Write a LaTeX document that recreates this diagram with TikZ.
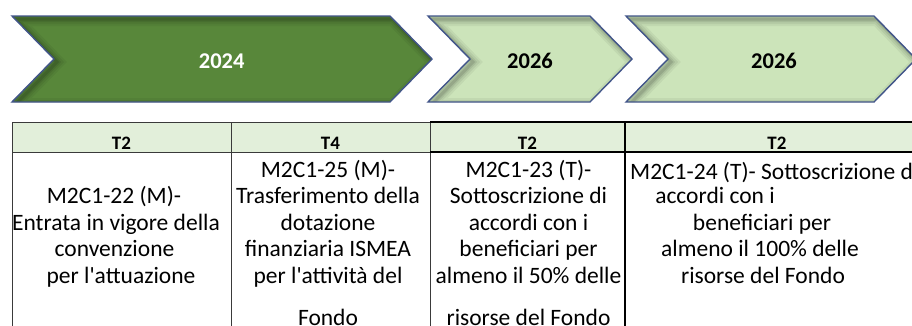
\documentclass[tikz,border=0pt]{standalone}
\usepackage{fontspec}
\setmainfont{Carlito}
\definecolor{dkgreen}{HTML}{58873A}
\definecolor{ltgreen}{HTML}{CCE4BA}
\definecolor{hdrgreen}{HTML}{E2EFDA}
\definecolor{chevline}{HTML}{42558A}
\definecolor{gridgray}{HTML}{3A3A3A}
\newcommand\chevronshape[3]{%
  \fill[#3] (#1,16) -- (#2,16) -- (#2+42,59) -- (#2,102) -- (#1,102) -- (#1+42,59) -- cycle;
  \begin{scope}
    \clip (#1,16) -- (#2,16) -- (#2+42,59) -- (#2,102) -- (#1,102) -- (#1+42,59) -- cycle;
    \foreach \w/\o in {14/0.05,10/0.06,6/0.08,3/0.1}
      \draw[black,opacity=\o,line width=\w pt,line join=miter,shift={(3,3)}]
        (#1,16) -- (#2,16) -- (#2+42,59) -- (#2,102) -- (#1,102) -- (#1+42,59) -- cycle;
  \end{scope}
  \draw[chevline,line width=1.4pt,line join=miter]
    (#1,16) -- (#2,16) -- (#2+42,59) -- (#2,102) -- (#1,102) -- (#1+42,59) -- cycle;
}
\tikzset{
  body/.style={font=\fontsize{23.5}{28}\selectfont, inner sep=0pt, anchor=base},
  hdr/.style={font=\fontsize{19}{21}\selectfont\bfseries, inner sep=0pt, anchor=base},
  year/.style={font=\fontsize{22.5}{24}\selectfont\bfseries, inner sep=0pt, anchor=base},
  thingrid/.style={gridgray, line width=0.9pt},
  thickgrid/.style={black, line width=1.6pt}
}
\begin{document}
\begin{tikzpicture}[x=1pt,y=-1pt]
\useasboundingbox (0,0) rectangle (912,325);
\clip (0,0) rectangle (912,325);
\fill[white] (0,0) rectangle (912,325);
% chevrons
\chevronshape{12}{390}{dkgreen}
\chevronshape{428}{590}{ltgreen}
\chevronshape{626}{874}{ltgreen}
\node[year, white] (y1) at (221.7,68.3) {2024};
\node[year] (y2) at (530,68.3) {2026};
\node[year] (y3) at (774,68.3) {2026};
% table
\fill[hdrgreen] (12,122) rectangle (912,152);
\draw[thingrid] (12,122) -- (430,122) (12,152) -- (430,152)
  (12,122) -- (12,330) (231,122) -- (231,330) (430,122) -- (430,330);
\draw[thickgrid] (430,122) -- (912,122) (430,152) -- (912,152);
\draw[black, line width=2.4pt] (625,122) -- (625,330);
\node[hdr] (h1) at (121.5,149.5) {T2};
\node[hdr] (h2) at (330.5,149.5) {T4};
\node[hdr] (h3) at (527.5,149.5) {T2};
\node[hdr] (h4) at (777,149.5) {T2};
% column 1
\node[body] (a1) at (114,203.5) {M2C1-22 (M)-};
\node[body] (a2) at (116,230) {Entrata in vigore della};
\node[body] (a3) at (114.5,256.5) {convenzione};
\node[body] (a4) at (121,283) {per l\textquotesingle attuazione};
% column 2
\node[body] (b1) at (328,177) {M2C1-25 (M)-};
\node[body] (b2) at (328,203.5) {Trasferimento della};
\node[body] (b3) at (328,230) {dotazione};
\node[body] (b4) at (328,256.5) {finanziaria ISMEA};
\node[body] (b5) at (328,283) {per l\textquotesingle attività del};
\node[body] (b6) at (328,325) {Fondo};
% column 3
\node[body] (c1) at (528.5,177) {M2C1-23 (T)-};
\node[body] (c2) at (528.5,203.5) {Sottoscrizione di};
\node[body] (c3) at (528.5,230) {accordi con i};
\node[body] (c4) at (528.5,256.5) {beneficiari per};
\node[body] (c5) at (528.5,283) {almeno il 50\% delle};
\node[body] (c6) at (528.5,325) {risorse del Fondo};
% column 4
\node[body, anchor=base west] (d1) at (630,179) {M2C1-24 (T)- Sottoscrizione di};
\node[body] (d2) at (715,203.5) {accordi con i};
\node[body] (d3) at (762,230) {beneficiari per};
\node[body] (d4) at (760,256.5) {almeno il 100\% delle};
\node[body] (d5) at (763,283) {risorse del Fondo};
\end{tikzpicture}
\end{document}
